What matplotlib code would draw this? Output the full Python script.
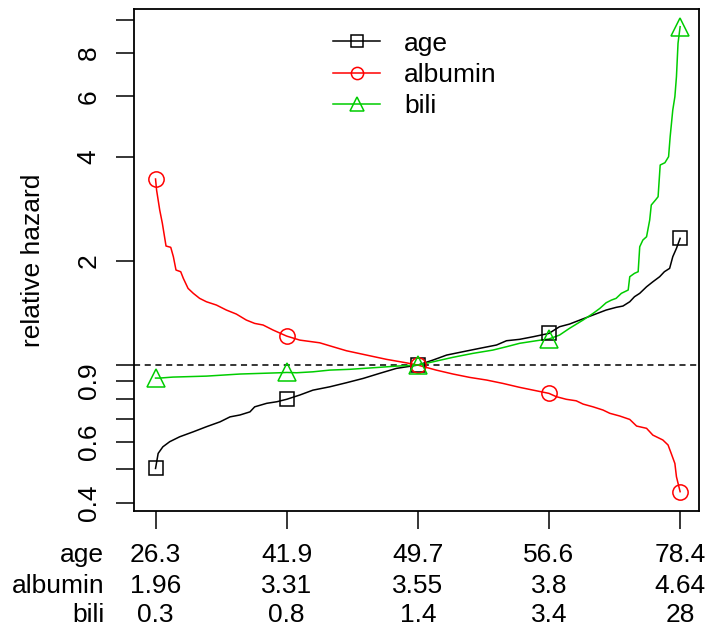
import numpy as np
import matplotlib
matplotlib.use("Agg")
import matplotlib.pyplot as plt
from matplotlib.lines import Line2D

plt.rcParams['font.family'] = ['Liberation Sans', 'DejaVu Sans']

# quantile position (0 = min, 1 = max) and relative hazard
age_q = [0.0, 0.005, 0.014, 0.027, 0.046, 0.072, 0.097, 0.123, 0.142, 0.161, 0.180,
         0.189, 0.212, 0.231, 0.25, 0.275, 0.300, 0.332, 0.364, 0.396, 0.427, 0.459,
         0.5, 0.529, 0.555, 0.586, 0.618, 0.650, 0.669, 0.694, 0.720, 0.75, 0.770,
         0.789, 0.809, 0.834, 0.859, 0.878, 0.891, 0.904, 0.913, 0.923, 0.936, 0.948,
         0.961, 0.970, 0.980, 0.986, 0.993, 1.0]
age_hr = [0.502, 0.555, 0.580, 0.600, 0.620, 0.641, 0.663, 0.685, 0.708, 0.717, 0.732,
          0.757, 0.775, 0.783, 0.796, 0.819, 0.846, 0.865, 0.889, 0.915, 0.946, 0.978,
          1.0, 1.034, 1.069, 1.093, 1.118, 1.143, 1.176, 1.187, 1.208, 1.235, 1.291,
          1.314, 1.350, 1.396, 1.443, 1.469, 1.482, 1.525, 1.577, 1.613, 1.685, 1.742,
          1.802, 1.863, 1.905, 2.059, 2.177, 2.327]

alb_q = [0.0, 0.002, 0.008, 0.013, 0.020, 0.029, 0.034, 0.039, 0.048, 0.053, 0.062,
         0.072, 0.084, 0.097, 0.116, 0.135, 0.154, 0.173, 0.189, 0.205, 0.224, 0.25,
         0.275, 0.313, 0.338, 0.364, 0.402, 0.440, 0.478, 0.5, 0.535, 0.567, 0.599,
         0.631, 0.662, 0.694, 0.720, 0.75, 0.764, 0.783, 0.802, 0.815, 0.834, 0.853,
         0.866, 0.885, 0.904, 0.917, 0.936, 0.948, 0.967, 0.977, 0.983, 0.990, 0.993, 1.0]
alb_hr = [3.456, 3.211, 2.810, 2.572, 2.211, 2.192, 2.059, 1.884, 1.863, 1.782, 1.667,
          1.613, 1.560, 1.525, 1.492, 1.443, 1.405, 1.350, 1.320, 1.306, 1.263, 1.213,
          1.181, 1.160, 1.130, 1.100, 1.069, 1.039, 1.015, 1.0, 0.967, 0.942, 0.921,
          0.905, 0.885, 0.862, 0.846, 0.828, 0.810, 0.796, 0.788, 0.771, 0.757, 0.741,
          0.725, 0.712, 0.696, 0.666, 0.656, 0.627, 0.607, 0.587, 0.555, 0.519, 0.475, 0.430]

bili_q = [0.0, 0.008, 0.033, 0.097, 0.161, 0.237, 0.25, 0.269, 0.300, 0.332, 0.370,
          0.427, 0.459, 0.5, 0.529, 0.567, 0.605, 0.643, 0.669, 0.694, 0.726, 0.75,
          0.770, 0.789, 0.815, 0.834, 0.847, 0.859, 0.869, 0.878, 0.888, 0.901, 0.904,
          0.913, 0.920, 0.923, 0.929, 0.936, 0.942, 0.945, 0.953, 0.958, 0.962, 0.971,
          0.978, 0.981, 0.986, 0.990, 0.993, 0.996, 1.0]
bili_hr = [0.917, 0.917, 0.923, 0.929, 0.942, 0.950, 0.952, 0.950, 0.956, 0.967, 0.972,
           0.985, 0.993, 1.0, 1.022, 1.053, 1.081, 1.105, 1.130, 1.156, 1.176, 1.19,
           1.221, 1.277, 1.350, 1.411, 1.459, 1.515, 1.542, 1.560, 1.613, 1.649, 1.802,
           1.843, 1.863, 2.200, 2.301, 2.352, 2.629, 2.906, 3.004, 3.071, 3.794, 3.852,
           4.010, 4.581, 5.474, 5.981, 6.835, 8.540, 9.539]

# x-axis: quantiles of each predictor
tick_q = [0.0, 0.25, 0.5, 0.75, 1.0]
row_names = ["age", "albumin", "bili"]
age_ticks = ["26.3", "41.9", "49.7", "56.6", "78.4"]
alb_ticks = ["1.96", "3.31", "3.55", "3.8", "4.64"]
bili_ticks = ["0.3", "0.8", "1.4", "3.4", "28"]

y_ticks = [0.4, 0.5, 0.6, 0.7, 0.8, 0.9, 1, 2, 4, 6, 8, 10]
y_labels = ["0.4", "", "0.6", "", "", "0.9", "", "2", "4", "6", "8", ""]

green = "#00CD00"
FS = 19

fig = plt.figure(figsize=(7.08, 6.36), dpi=100)
ax = fig.add_axes([0.1893, 0.1965, 0.798, 0.7893])

series = [
    (age_q, age_hr, "black", "s", 10, "age"),
    (alb_q, alb_hr, "red", "o", 11, "albumin"),
    (bili_q, bili_hr, green, "^", 13, "bili"),
]
handles = []
for q, hr, col, mk, ms, name in series:
    q = np.array(q)
    hr = np.array(hr)
    ax.plot(q, hr, color=col, lw=1.1, zorder=3)
    sel = np.isin(q, tick_q)
    ax.plot(q[sel], hr[sel], ls="none", marker=mk, ms=ms, mfc="none",
            mec=col, mew=1.1, zorder=4)
    handles.append(Line2D([], [], color=col, lw=1.1, marker=mk, ms=ms * 0.8,
                          mfc="none", mec=col, mew=1.1, label=name))

ax.axhline(1, color="black", lw=1.1, ls=(0, (4, 3)), zorder=2)

ax.set_yscale("log")
ax.set_ylim(0.378, 10.73)
ax.set_xlim(-0.041, 1.036)
ax.yaxis.set_minor_locator(matplotlib.ticker.NullLocator())
ax.set_yticks(y_ticks)
ax.set_yticklabels(y_labels)
plt.setp(ax.get_yticklabels(), rotation=90, va="center")
ax.set_xticks(tick_q)
ax.set_xticklabels([""] * len(tick_q))
ax.tick_params(axis="both", direction="out", length=13, width=1.1,
               labelsize=FS, color="black")
ax.tick_params(axis="y", pad=11)
for sp in ax.spines.values():
    sp.set_linewidth(1.3)

ax.set_ylabel("relative hazard", fontsize=FS, labelpad=23)

# multi-row x labels
trans = ax.get_xaxis_transform()
row_offsets = [37, 58.7, 79.6]
for labels, name, off in zip([age_ticks, alb_ticks, bili_ticks], row_names, row_offsets):
    for xq, lab in zip(tick_q, labels):
        ax.annotate(lab, xy=(xq, 0), xycoords=trans, xytext=(0, -off),
                    textcoords="offset points", ha="center", va="baseline",
                    fontsize=FS, annotation_clip=False)
    ax.annotate(name, xy=(-0.098, 0), xycoords=trans, xytext=(0, -off),
                textcoords="offset points", ha="right", va="baseline",
                fontsize=FS, annotation_clip=False)

ax.legend(handles=handles, loc="upper left", bbox_to_anchor=(0.353, 0.955),
          frameon=False, fontsize=FS, handlelength=1.77, handletextpad=0.9,
          labelspacing=0.27, borderpad=0, borderaxespad=0)

fig.savefig("out.png", dpi=100)
